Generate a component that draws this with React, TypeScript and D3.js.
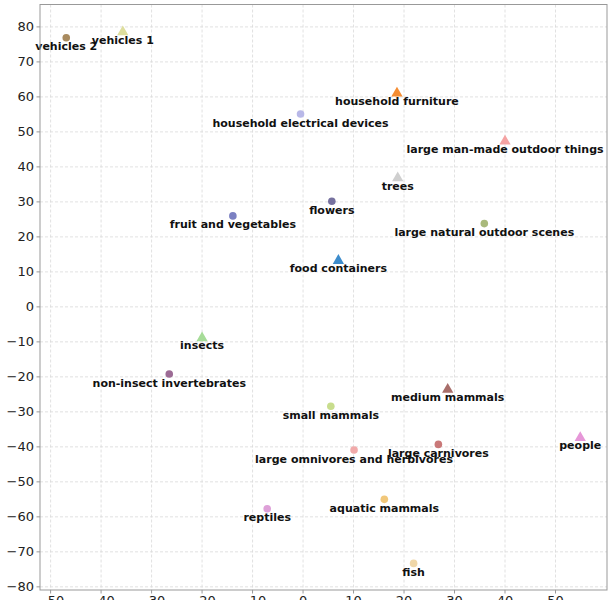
import React from "react";
import * as d3 from "d3";

// Category embedding: 2-D coordinates per CIFAR-100 superclass
const labels = [
  "vehicles 2", "vehicles 1", "household electrical devices", "household furniture",
  "large man-made outdoor things", "trees", "flowers", "fruit and vegetables",
  "large natural outdoor scenes", "food containers", "insects", "non-insect invertebrates",
  "medium mammals", "small mammals", "large omnivores and herbivores", "large carnivores",
  "people", "aquatic mammals", "reptiles", "fish",
];
const xs = [-46.9, -35.7, -0.5, 18.6, 40.0, 18.75, 5.7, -13.9, 35.9, 7.0, -20.0, -26.5, 28.65, 5.5, 10.1, 26.8, 54.9, 16.1, -7.1, 21.9];
const ys = [76.9, 78.8, 55.1, 61.3, 47.6, 37.1, 30.2, 26.0, 23.8, 13.5, -8.6, -19.2, -23.3, -28.4, -40.9, -39.3, -37.1, -55.0, -57.7, -73.3];
const shapes = ["circle", "triangle", "circle", "triangle", "triangle", "triangle", "circle", "circle", "circle", "triangle", "triangle", "circle", "triangle", "circle", "circle", "circle", "triangle", "circle", "circle", "circle"];
const colors = ["#a98b5f", "#dede9e", "#b8b8e8", "#f58d32", "#f5a3a3", "#cfcfcf", "#76719f", "#7b80c2", "#a9b97b", "#3d8ccc", "#a6dc98", "#9c6b95", "#a86e6a", "#c8dd8d", "#f1aaaa", "#c97878", "#e697d8", "#f1c77a", "#dea0d8", "#f0d7a8"];
const xTicks = [-50, -40, -30, -20, -10, 0, 10, 20, 30, 40, 50];
const yTicks = [-80, -70, -60, -50, -40, -30, -20, -10, 0, 10, 20, 30, 40, 50, 60, 70, 80];

const W = 610, H = 600;
const left = 40, right = 607, top = 4.5, bottom = 590;

export default function App() {
  const x = d3.scaleLinear().domain([-52.1, 60.2]).range([left, right]);
  const y = d3.scaleLinear().domain([-80.9, 86.4]).range([bottom, top]);
  const tri = d3.symbol().type(d3.symbolTriangle).size(55)();
  const font = "'DejaVu Sans', sans-serif";

  return (
    <svg width={W} height={H} style={{ position: "absolute", left: 0, top: 0, background: "#fff" }}>
      {/* grid */}
      <g stroke="#d9d9d9" strokeWidth={0.8} strokeDasharray="3,2">
        {xTicks.map((t) => (
          <line key={"gx" + t} x1={x(t)} x2={x(t)} y1={top} y2={bottom} />
        ))}
        {yTicks.map((t) => (
          <line key={"gy" + t} x1={left} x2={right} y1={y(t)} y2={y(t)} />
        ))}
      </g>
      {/* markers */}
      <g>
        {labels.map((l, i) =>
          shapes[i] === "circle" ? (
            <circle key={"m" + i} cx={x(xs[i])} cy={y(ys[i])} r={3.8} fill={colors[i]} />
          ) : (
            <path key={"m" + i} d={tri} transform={`translate(${x(xs[i])},${y(ys[i]) + 1})`} fill={colors[i]} />
          )
        )}
      </g>
      {/* labels */}
      <g fontFamily={font} fontWeight="bold" fontSize={11} fill="#111" textAnchor="middle">
        {labels.map((l, i) => (
          <text key={"t" + i} x={x(xs[i])} y={y(ys[i]) + 12.5}>{l}</text>
        ))}
      </g>
      {/* frame */}
      <rect x={left} y={top} width={right - left} height={bottom - top} fill="none" stroke="#999" strokeWidth={1} />
      {/* ticks */}
      <g stroke="#999" strokeWidth={1}>
        {xTicks.map((t) => (
          <line key={"tx" + t} x1={x(t)} x2={x(t)} y1={bottom} y2={bottom + 3.5} />
        ))}
        {yTicks.map((t) => (
          <line key={"ty" + t} x1={left - 3.5} x2={left} y1={y(t)} y2={y(t)} />
        ))}
      </g>
      <g fontFamily={font} fontSize={13} fill="#222">
        {xTicks.map((t) => (
          <text key={"lx" + t} x={x(t)} y={bottom + 15} textAnchor="middle">{String(t).replace("-", "\u2212")}</text>
        ))}
        {yTicks.map((t) => (
          <text key={"ly" + t} x={left - 6} y={y(t)} dy="0.35em" textAnchor="end">{String(t).replace("-", "\u2212")}</text>
        ))}
      </g>
    </svg>
  );
}
